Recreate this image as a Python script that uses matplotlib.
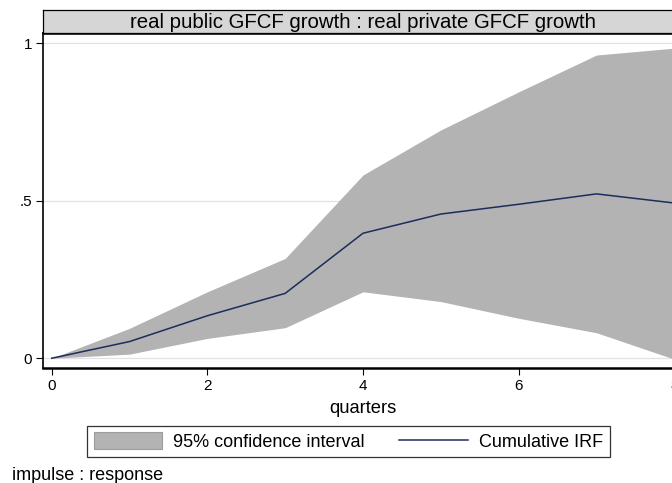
import matplotlib.pyplot as plt
import matplotlib.patches as mpatches
from matplotlib.lines import Line2D

plt.rcParams['font.family'] = ['Liberation Sans', 'DejaVu Sans']

# cumulative IRF and its 95% band, one value per quarter
quarters = [0, 1, 2, 3, 4, 5, 6, 7, 8]
irf = [0.0, 0.053, 0.135, 0.206, 0.397, 0.458, 0.489, 0.522, 0.493]
ci_low = [0.0, 0.013, 0.063, 0.097, 0.211, 0.180, 0.127, 0.081, -0.003]
ci_high = [0.0, 0.095, 0.211, 0.317, 0.582, 0.725, 0.846, 0.963, 0.985]

panel_title = "real public GFCF growth : real private GFCF growth"
xticks = [0, 2, 4, 6, 8]
yticks = [0, 0.5, 1]
ytick_labels = ["0", ".5", "1"]

W, H = 672, 483
fig = plt.figure(figsize=(W / 100, H / 100), dpi=100)


def px_box(left, top, right, bottom):
    # pixel box -> figure fraction [l, b, w, h]
    return [left / W, 1 - bottom / H, (right - left) / W, (bottom - top) / H]


ax = fig.add_axes(px_box(43, 33, 683, 368))
ax.fill_between(quarters, ci_low, ci_high, color='#b3b3b3', lw=0, zorder=2)
ax.plot(quarters, irf, color='#1b2d5c', lw=1.1, zorder=3)

ax.set_xlim(-0.112, 8.112)
ax.set_ylim(-0.031, 1.033)
ax.set_xticks(xticks)
ax.set_yticks(yticks)
ax.set_yticklabels(ytick_labels)
ax.grid(axis='y', color='#e2e2e2', lw=0.9, zorder=1)
ax.set_axisbelow(True)
ax.tick_params(axis='both', labelsize=11, colors='black', length=5, width=0.8,
               direction='out', pad=3)
ax.set_xlabel("quarters", fontsize=13.2, labelpad=5)

ax.spines['right'].set_visible(False)
ax.spines['left'].set_linewidth(1.2)
ax.spines['bottom'].set_linewidth(1.8)
ax.spines['top'].set_linewidth(1.8)

# panel title strip
tax = fig.add_axes(px_box(43, 10, 683, 33))
tax.set_facecolor('#d6d6d6')
tax.set_xticks([])
tax.set_yticks([])
for s in tax.spines.values():
    s.set_linewidth(0.9)
tax.text(0.5, 0.45, panel_title, transform=tax.transAxes,
         ha='center', va='center', fontsize=14.7)

handles = [mpatches.Patch(facecolor='#b3b3b3', edgecolor='#9c9c9c', lw=0.8),
           Line2D([], [], color='#1b2d5c', lw=1.1)]
leg = fig.legend(handles, ["95% confidence interval", "Cumulative IRF"],
                 loc='center', bbox_to_anchor=(348.2 / W, 1 - 441.5 / H),
                 ncol=2, fontsize=13, frameon=True, fancybox=False,
                 edgecolor='black', handlelength=3.8, handleheight=1.0,
                 handletextpad=0.6, columnspacing=1.9, borderpad=0.38,
                 borderaxespad=0)
leg.get_frame().set_linewidth(0.9)

fig.text(12 / W, 1 - 475 / H, "impulse : response", fontsize=13,
         ha='left', va='center')

fig.savefig('out.png', dpi=100, facecolor='white')
